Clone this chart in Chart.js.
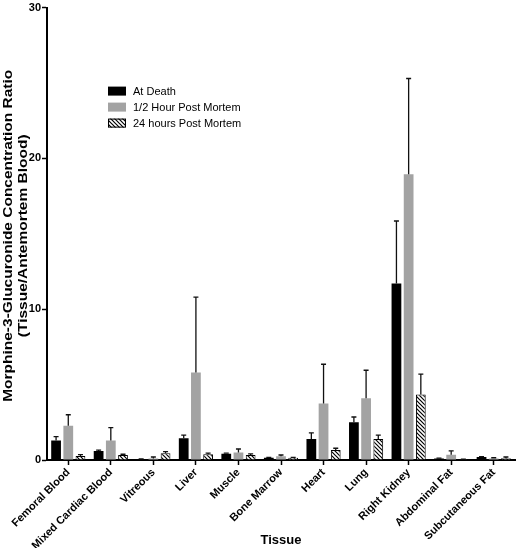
<!DOCTYPE html>
<html>
<head>
<meta charset="utf-8">
<script src="https://cdn.jsdelivr.net/npm/chart.js@4.4.1/dist/chart.umd.min.js"></script>
<style>
  html, body { margin: 0; padding: 0; background: #fff; }
</style>
</head>
<body>
<canvas id="chart" width="520" height="550"></canvas>
<script>
const tissues = ['Femoral Blood', 'Mixed Cardiac Blood', 'Vitreous', 'Liver', 'Muscle', 'Bone Marrow',
                 'Heart', 'Lung', 'Right Kidney', 'Abdominal Fat', 'Subcutaneous Fat'];

const atDeath      = [1.3, 0.6, 0.05, 1.45, 0.42, 0.15, 1.4, 2.5, 11.7, 0.1, 0.2];
const atDeathErr   = [0.25, 0.05, 0.02, 0.2, 0.03, 0.02, 0.4, 0.35, 4.15, 0.02, 0.03];
const halfHour     = [2.27, 1.3, 0.1, 5.8, 0.5, 0.25, 3.75, 4.1, 18.95, 0.35, 0.1];
const halfHourErr  = [0.73, 0.85, 0.1, 5.0, 0.23, 0.08, 2.6, 1.85, 6.35, 0.25, 0.05];
const hours24      = [0.27, 0.33, 0.45, 0.38, 0.33, 0.15, 0.67, 1.4, 4.35, 0.05, 0.12];
const hours24Err   = [0.08, 0.05, 0.1, 0.07, 0.07, 0.03, 0.11, 0.25, 1.35, 0.01, 0.08];

const yTicks = [0, 10, 20, 30];
const yTitleLines = ['Morphine-3-Glucuronide Concentration Ratio', '(Tissue/Antemortem Blood)'];

function hatchPattern() {
    const c = document.createElement('canvas');
    c.width = 4;
    c.height = 4;
    const g = c.getContext('2d');
    g.fillStyle = '#fff';
    g.fillRect(0, 0, 4, 4);
    g.strokeStyle = '#000';
    g.lineWidth = 1.2;
    g.beginPath();
    g.moveTo(-1, -1); g.lineTo(5, 5);
    g.moveTo(-1, 3); g.lineTo(1, 5);
    g.moveTo(3, -1); g.lineTo(5, 1);
    g.stroke();
    return g.createPattern(c, 'repeat');
}

const hatch = hatchPattern();
const FONT = 'Liberation Sans, Arial, sans-serif';

// upward error bars
const errorBars = {
    id: 'errorBars',
    afterDatasetsDraw(chart) {
        const ctx = chart.ctx;
        const y = chart.scales.y;
        chart.data.datasets.forEach((ds, i) => {
            const meta = chart.getDatasetMeta(i);
            meta.data.forEach((bar, j) => {
                const top = y.getPixelForValue(ds.data[j] + ds.errors[j]);
                ctx.save();
                ctx.strokeStyle = '#111';
                ctx.lineWidth = 1.3;
                ctx.beginPath();
                ctx.moveTo(bar.x, bar.y);
                ctx.lineTo(bar.x, top);
                ctx.moveTo(bar.x - 2.5, top);
                ctx.lineTo(bar.x + 2.5, top);
                ctx.stroke();
                ctx.restore();
            });
        });
    }
};

// legend drawn inside the plot
const insideLegend = {
    id: 'insideLegend',
    afterDraw(chart) {
        const ctx = chart.ctx;
        const x0 = chart.chartArea.left + 61;
        let y0 = chart.chartArea.top + 83;
        ctx.save();
        ctx.font = '11px ' + FONT;
        ctx.textBaseline = 'middle';
        chart.data.datasets.forEach(ds => {
            ctx.fillStyle = ds.backgroundColor;
            ctx.fillRect(x0, y0 - 4, 18, 9);
            if (ds.borderWidth) {
                ctx.strokeStyle = '#000';
                ctx.lineWidth = 1;
                ctx.strokeRect(x0 + 0.5, y0 - 3.5, 17, 8);
            }
            ctx.fillStyle = '#000';
            ctx.fillText(ds.label, x0 + 25, y0 + 1);
            y0 += 16;
        });
        ctx.restore();
    }
};

// y title, a bit stretched along its length like the original
const yTitle = {
    id: 'yTitle',
    afterDraw(chart) {
        const ctx = chart.ctx;
        const cy = (chart.chartArea.top + chart.chartArea.bottom) / 2 + 2;
        ctx.save();
        ctx.fillStyle = '#000';
        ctx.font = 'bold 12px ' + FONT;
        ctx.textAlign = 'center';
        ctx.textBaseline = 'middle';
        yTitleLines.forEach((line, i) => {
            ctx.save();
            ctx.translate(9 + i * 14.5, cy);
            ctx.rotate(-Math.PI / 2);
            ctx.scale(1.29, 1);
            ctx.fillText(line, 0, 0);
            ctx.restore();
        });
        ctx.restore();
    }
};

new Chart(document.getElementById('chart'), {
    type: 'bar',
    data: {
        labels: tissues,
        datasets: [
            { label: 'At Death', data: atDeath, errors: atDeathErr,
              backgroundColor: '#000', borderWidth: 0 },
            { label: '1/2 Hour Post Mortem', data: halfHour, errors: halfHourErr,
              backgroundColor: '#a3a3a3', borderWidth: 0 },
            { label: '24 hours Post Mortem', data: hours24, errors: hours24Err,
              backgroundColor: hatch, borderColor: '#000', borderWidth: 1 }
        ]
    },
    options: {
        responsive: false,
        devicePixelRatio: 1,
        animation: false,
        categoryPercentage: 0.86,
        barPercentage: 0.8,
        layout: { padding: { top: 2, right: 5, left: 0, bottom: 2 } },
        plugins: {
            legend: { display: false },
            tooltip: { enabled: false }
        },
        scales: {
            y: {
                min: 0,
                max: 30,
                afterBuildTicks: axis => { axis.ticks = yTicks.map(v => ({ value: v })); },
                afterFit: axis => { axis.width = 47; },
                border: { color: '#000', width: 2 },
                grid: { drawOnChartArea: false, drawTicks: true, tickLength: 5, tickColor: '#000', tickWidth: 1.5 },
                ticks: { color: '#000', font: { family: FONT, size: 11, weight: 'bold' }, padding: 1 }
            },
            x: {
                afterFit: axis => { axis.height = 88; },
                border: { color: '#000', width: 2 },
                grid: { offset: false, drawOnChartArea: false, drawTicks: true, tickLength: 5, tickColor: '#000', tickWidth: 1.5 },
                ticks: { color: '#000', minRotation: 45, maxRotation: 45, autoSkip: false,
                         font: { family: FONT, size: 11, weight: 'bold' }, padding: 1 },
                title: {
                    display: true,
                    text: 'Tissue',
                    color: '#000',
                    font: { family: FONT, size: 13, weight: 'bold' },
                    padding: { top: 0, bottom: 0 }
                }
            }
        }
    },
    plugins: [errorBars, insideLegend, yTitle]
});
</script>
</body>
</html>
